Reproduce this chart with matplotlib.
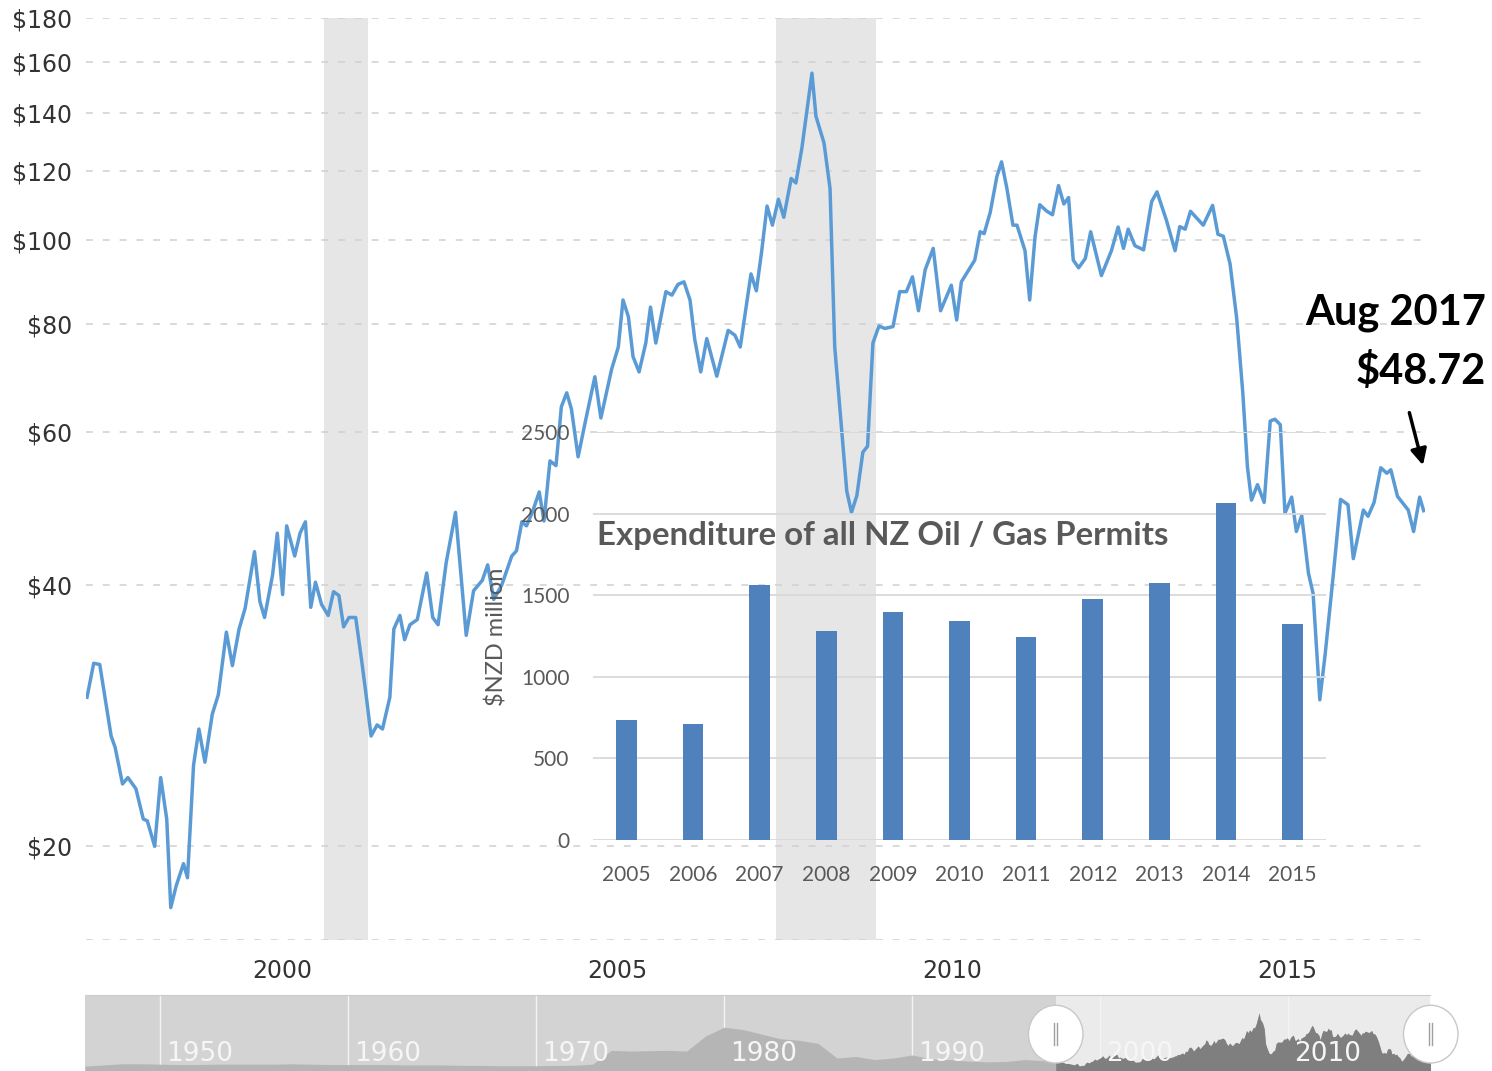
import matplotlib.pyplot as plt
from matplotlib.patches import Ellipse
from matplotlib.ticker import NullLocator

# crude oil price, inflation adjusted, $ per barrel
dates = [1997.64, 1997.74, 1997.83, 1998.00, 1998.06, 1998.17, 1998.25, 1998.37, 1998.48, 1998.54,
         1998.65, 1998.74, 1998.83, 1998.89, 1998.97, 1999.08, 1999.14, 1999.23, 1999.31, 1999.40,
         1999.51, 1999.60, 1999.72, 1999.81, 1999.91, 2000.00, 2000.14, 2000.22, 2000.29, 2000.41,
         2000.48, 2000.56, 2000.62, 2000.74, 2000.82, 2000.90, 2000.98, 2001.05, 2001.14, 2001.24,
         2001.32, 2001.40, 2001.47, 2001.55, 2001.65, 2001.74, 2001.81, 2001.88, 2001.97, 2002.05,
         2002.16, 2002.22, 2002.31, 2002.38, 2002.46, 2002.57, 2002.71, 2002.80, 2002.88, 2003.00,
         2003.14, 2003.30, 2003.41, 2003.54, 2003.62, 2003.71, 2003.83, 2003.98, 2004.05, 2004.13,
         2004.20, 2004.29, 2004.39, 2004.46, 2004.55, 2004.64, 2004.72, 2004.80, 2004.87, 2004.97,
         2005.07, 2005.22, 2005.31, 2005.47, 2005.57, 2005.64, 2005.72, 2005.79, 2005.88, 2005.98,
         2006.05, 2006.13, 2006.28, 2006.37, 2006.46, 2006.55, 2006.64, 2006.71, 2006.80, 2006.89,
         2007.04, 2007.21, 2007.31, 2007.39, 2007.55, 2007.63, 2007.71, 2007.79, 2007.87, 2007.96,
         2008.04, 2008.15, 2008.22, 2008.31, 2008.46, 2008.52, 2008.64, 2008.73, 2008.80, 2008.90,
         2008.98, 2009.05, 2009.13, 2009.22, 2009.29, 2009.37, 2009.46, 2009.55, 2009.67, 2009.77,
         2009.87, 2009.96, 2010.05, 2010.15, 2010.27, 2010.38, 2010.54, 2010.62, 2010.69, 2010.82,
         2010.89, 2010.97, 2011.03, 2011.12, 2011.22, 2011.29, 2011.37, 2011.46, 2011.52, 2011.64,
         2011.71, 2011.79, 2011.86, 2011.96, 2012.05, 2012.14, 2012.22, 2012.29, 2012.36, 2012.44,
         2012.54, 2012.62, 2012.78, 2012.93, 2013.03, 2013.11, 2013.18, 2013.28, 2013.41, 2013.53,
         2013.61, 2013.75, 2013.88, 2013.95, 2014.03, 2014.11, 2014.30, 2014.44, 2014.52, 2014.60,
         2014.70, 2014.80, 2014.89, 2014.96, 2015.02, 2015.11, 2015.21, 2015.30, 2015.37, 2015.45,
         2015.52, 2015.62, 2015.69, 2015.77, 2015.87, 2015.94, 2016.04, 2016.12, 2016.24, 2016.35,
         2016.46, 2016.54, 2016.69, 2016.76, 2016.85, 2016.95, 2017.04, 2017.10, 2017.20, 2017.36,
         2017.44, 2017.53, 2017.59]
prices = [29.7, 32.5, 32.4, 26.8, 26.0, 23.6, 24.0, 23.3, 21.5, 21.4,
          20.0, 24.0, 21.5, 17.0, 18.0, 19.1, 18.4, 24.8, 27.3, 25.0,
          28.4, 29.9, 35.3, 32.3, 35.6, 37.6, 43.7, 38.3, 36.7, 41.1,
          45.9, 39.0, 46.8, 43.2, 45.9, 47.3, 37.7, 40.3, 38.0, 36.9,
          39.3, 38.9, 35.8, 36.7, 36.7, 32.7, 29.7, 26.8, 27.6, 27.3,
          29.7, 35.6, 36.9, 34.6, 36.0, 36.5, 41.3, 36.7, 36.0, 42.4,
          48.5, 35.0, 39.4, 40.5, 42.2, 38.5, 40.0, 43.2, 43.8, 47.3,
          46.8, 48.6, 51.2, 47.4, 55.6, 54.9, 64.2, 66.6, 63.8, 56.2,
          61.3, 69.5, 62.3, 70.9, 75.2, 85.2, 81.5, 73.3, 70.4, 76.0,
          83.6, 76.0, 87.1, 86.3, 88.8, 89.4, 85.2, 76.8, 70.4, 76.9,
          69.6, 78.6, 77.6, 75.2, 91.3, 87.3, 97.0, 109.3, 103.9, 111.3,
          106.1, 117.6, 116.2, 127.5, 155.5, 138.7, 129.2, 114.5, 75.2, 60.8,
          51.3, 48.5, 50.7, 56.9, 57.8, 76.0, 79.5, 79.0, 79.4, 87.1,
          87.1, 90.6, 82.8, 92.3, 97.7, 82.8, 88.6, 80.8, 89.4, 92.8,
          94.7, 102.1, 101.6, 107.4, 118.2, 122.9, 114.5, 103.9, 103.9, 97.1,
          85.2, 100.8, 109.7, 107.9, 106.8, 115.4, 109.9, 111.8, 94.7, 92.8,
          95.1, 102.1, 90.9, 97.1, 103.4, 97.7, 102.8, 98.4, 97.3, 110.6,
          113.5, 105.3, 97.1, 103.5, 102.8, 107.8, 103.9, 109.5, 101.4, 100.9,
          93.8, 81.1, 66.7, 54.7, 50.1, 52.2, 49.8, 61.8, 62.1, 61.2,
          48.4, 50.5, 46.1, 48.1, 41.3, 39.1, 29.5, 33.3, 41.0, 50.2,
          49.5, 42.9, 48.8, 48.0, 49.8, 54.6, 53.8, 54.3, 50.6, 48.8,
          46.1, 50.5, 48.72]

recessions = [(2001.17, 2001.83), (2007.92, 2009.42)]
price_ticks = [20, 40, 60, 80, 100, 120, 140, 160, 180]
year_ticks = [2000, 2005, 2010, 2015]

permit_years = ["2005", "2006", "2007", "2008", "2009", "2010",
                "2011", "2012", "2013", "2014", "2015"]
permit_spend = [738, 708, 1560, 1278, 1395, 1344, 1244, 1478, 1576, 2064, 1326]
spend_ticks = [0, 500, 1000, 1500, 2000, 2500]

# navigator history before the zoomed range (annual)
nav_years = list(range(1946, 1998))
nav_prices = [17, 20, 23, 23, 22, 21, 21, 22, 22, 22,
              22, 23, 22, 21, 21, 21, 21, 20, 20, 20,
              19, 19, 18, 18, 18, 19, 19, 22, 58, 56,
              57, 58, 56, 95, 118, 112, 100, 88, 84, 76,
              38, 42, 34, 38, 46, 36, 34, 30, 28, 29,
              34, 31]
nav_decades = [1950, 1960, 1970, 1980, 1990, 2000, 2010]

W, H = 1492, 1071
fig = plt.figure(figsize=(W / 100, H / 100), dpi=100)


def box(l, t, r, b):
    return [l / W, 1 - b / H, (r - l) / W, (b - t) / H]


# ---- main price chart
ax = fig.add_axes(box(86, 18, 1425, 940))
ax.set_yscale("log")
ax.set_ylim(15.6, 180)
ax.set_xlim(1997.625, 2017.61)
for a, b in recessions:
    ax.axvspan(a, b, color="#e6e6e6", lw=0, zorder=0)
for v in price_ticks + [15.6]:
    ax.axhline(v, color="#d0d0d0", lw=1.1, ls=(0, (4.5, 6.5)), zorder=1)
ax.plot(dates, prices, color="#5b9bd5", lw=2.5, zorder=3, solid_joinstyle="round")

ax.set_yticks(price_ticks)
ax.set_yticklabels(["$%d" % v for v in price_ticks])
ax.yaxis.set_minor_locator(NullLocator())
ax.set_xticks([y + 0.55 for y in year_ticks])
ax.set_xticklabels([str(y) for y in year_ticks])
ax.tick_params(axis="y", length=0, pad=10, labelsize=17, labelcolor="#333333")
ax.tick_params(axis="x", length=0, pad=14, labelsize=17, labelcolor="#333333")
for s in ax.spines.values():
    s.set_visible(False)
ax.set_facecolor("none")

ax.annotate("", xy=(dates[-1], prices[-1] * 1.12), xytext=(-15, 58),
            textcoords="offset pixels", annotation_clip=False,
            arrowprops=dict(arrowstyle="-|>", color="black", lw=2.5, mutation_scale=24))
fig.text(1486 / W, 1 - 313 / H, "Aug 2017", ha="right", va="center", fontsize=30,
         fontweight="bold", family=["Lato", "DejaVu Sans"])
fig.text(1486 / W, 1 - 371 / H, "$%.2f" % prices[-1], ha="right", va="center", fontsize=30,
         fontweight="bold", family=["Lato", "DejaVu Sans"])

# ---- inset bar chart
axi = fig.add_axes(box(593, 432, 1326, 840), zorder=5)
axi.set_facecolor("none")
xs = list(range(len(permit_years)))
for v in spend_ticks:
    axi.axhline(v, color="#d9d9d9", lw=1.3, zorder=1)
axi.bar(xs, permit_spend, width=0.31, color="#4f81bd", zorder=2)
axi.set_xlim(-0.5, len(permit_years) - 0.5)
axi.set_ylim(0, 2500)
axi.set_xticks(xs)
axi.set_xticklabels(permit_years)
axi.set_yticks(spend_ticks)
axi.tick_params(length=0, labelsize=15, labelcolor="#595959")
axi.tick_params(axis="y", pad=17)
axi.tick_params(axis="x", pad=18)
for lab in axi.get_xticklabels() + axi.get_yticklabels():
    lab.set_family(["Lato", "DejaVu Sans"])
for s in axi.spines.values():
    s.set_visible(False)
axi.text(-0.131, 0.4975, "$NZD million", transform=axi.transAxes, rotation=90,
         ha="center", va="center", fontsize=17, color="#595959", family=["Lato", "DejaVu Sans"])
axi.text(0.0055, 0.7475, "Expenditure of all NZ Oil / Gas Permits", transform=axi.transAxes,
         ha="left", va="center", fontsize=23.8, fontweight="bold", color="#595959",
         family=["Lato", "DejaVu Sans"])

# ---- navigator
axn = fig.add_axes(box(85, 995, 1430, 1071))
axn.set_xlim(1946.0, 2017.55)
axn.set_ylim(4.3, 201.7)
axn.set_facecolor("#d3d3d3")
axn.axvspan(dates[0], dates[-1], color="#ebebeb", lw=0, zorder=0)
for d in nav_decades:
    axn.axvline(d, color="#f4f4f4", lw=1, zorder=1)
nx = nav_years + dates
ny = nav_prices + prices
axn.fill_between(nx, 0, ny, color="#b5b5b5", lw=0, zorder=2)
axn.fill_between(dates, 0, prices, color="#7f7f7f", lw=0, zorder=3)
for d in nav_decades:
    axn.text(d + 0.3, 29, str(d), ha="left", va="baseline", fontsize=19, color="#f6f6f6",
             family=["Liberation Sans Narrow", "DejaVu Sans"], zorder=4)
for hx in (dates[0], dates[-1]):
    axn.add_patch(Ellipse((hx, 100), width=2.9, height=150, fc="white", ec="#c8c8c8",
                          lw=1, clip_on=False, zorder=10))
    for dx in (-0.09, 0.09):
        axn.plot([hx + dx, hx + dx], [72, 129], color="#a0a0a0", lw=1, zorder=11, clip_on=False)
axn.set_xticks([])
axn.set_yticks([])
for k, s in axn.spines.items():
    s.set_visible(k == "top")
    s.set_color("#cccccc")

fig.savefig("out.png", dpi=100)
